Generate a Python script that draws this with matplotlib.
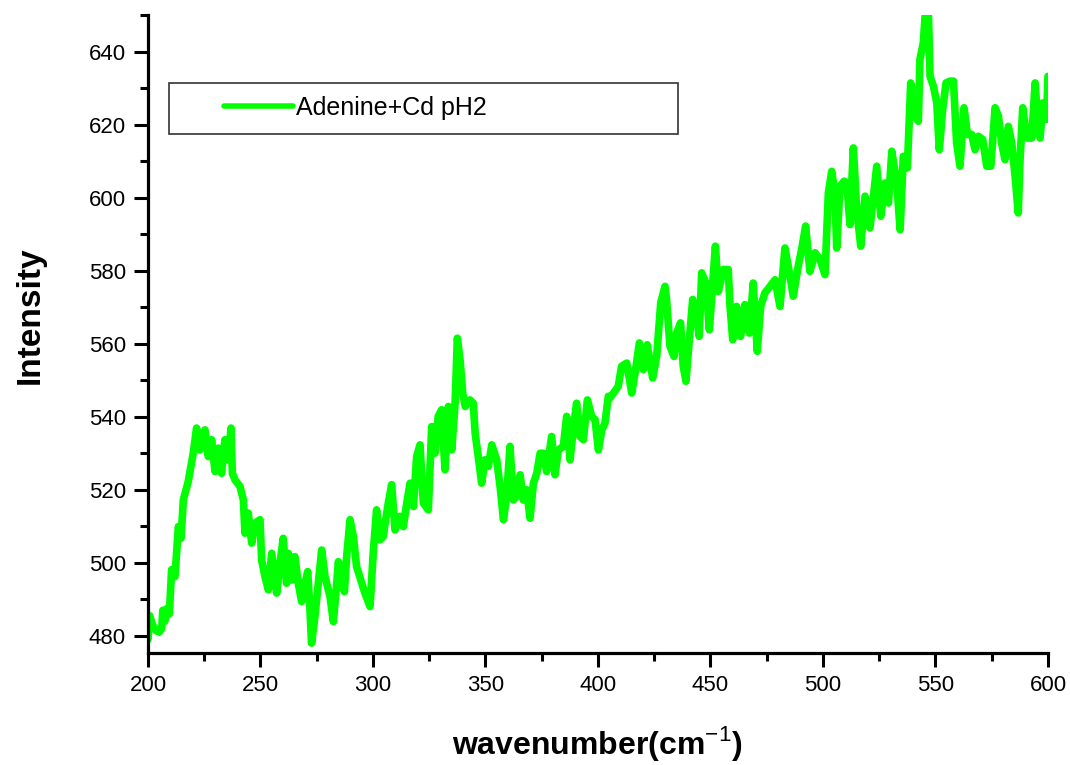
import matplotlib
matplotlib.use("Agg")
import matplotlib.pyplot as plt
from matplotlib.patches import Rectangle

plt.rcParams['font.family'] = ['Liberation Sans', 'DejaVu Sans']
plt.rcParams['mathtext.fontset'] = 'custom'
plt.rcParams['mathtext.rm'] = 'Liberation Sans'
plt.rcParams['mathtext.bf'] = 'Liberation Sans:bold'

# spectrum (wavenumber, intensity)
wavenumber = [
    200.0, 200.8, 202.0, 203.5, 205.0, 206.1, 206.6, 207.5, 208.5, 209.5,
    210.5, 212.0, 213.5, 214.7, 215.7, 217.9, 220.1, 221.6, 223.1, 225.3,
    226.8, 228.3, 229.8, 231.3, 232.7, 234.2, 235.7, 236.9, 237.5, 238.7,
    240.9, 242.4, 243.1, 244.6, 246.1, 247.6, 249.8, 250.5, 252.0, 253.5,
    255.0, 257.2, 258.7, 260.1, 261.6, 262.4, 263.9, 265.3, 266.8, 268.3,
    269.8, 271.0, 272.0, 272.7, 274.2, 275.7, 277.2, 278.7, 280.9, 282.4,
    283.9, 284.6, 286.1, 287.3, 288.3, 289.8, 291.3, 292.7, 295.0, 296.4,
    298.7, 300.1, 301.6, 303.1, 304.6,
    305.4, 306.8, 308.3, 309.8, 312.0, 313.5, 315.0, 316.5, 318.0, 319.4,
    320.9, 322.4, 324.6, 326.1, 327.6, 329.0, 330.5, 332.0, 333.5, 335.0,
    336.5, 337.5, 338.7, 339.9, 341.0, 343.1, 344.6, 345.4, 346.8, 348.3,
    349.8, 351.3, 352.8, 355.0, 356.5, 358.0, 359.4, 360.9, 362.4, 363.9,
    365.4, 366.8, 368.3, 369.8, 371.3, 372.8, 374.3, 375.7, 377.2, 379.4,
    380.9, 382.4, 384.6, 386.1, 387.6, 389.0, 390.5, 392.0, 393.5, 395.3,
    397.2, 398.7, 400.2, 401.7, 403.1, 404.6,
    405.3, 409.0, 410.5, 412.8, 415.0, 416.5, 418.4, 420.2, 421.9, 424.3,
    426.1, 427.9, 429.8, 430.5, 432.0, 433.8, 435.0, 436.7, 437.9, 439.1,
    440.6, 442.1, 443.9, 445.0, 446.1, 448.0, 449.5, 450.9, 452.2, 453.5,
    455.7, 457.9, 458.7, 459.9, 461.6, 463.4, 465.3, 467.3, 469.0, 470.8,
    472.3, 474.2, 476.5, 478.7, 480.9, 483.1, 485.1, 486.8, 489.0, 490.5,
    492.3, 494.2, 496.5, 498.7, 500.9, 502.4, 503.9, 505.3, 506.1,
    507.6, 509.4, 510.6, 512.0, 513.5, 515.0, 516.8, 518.7, 520.9, 523.9,
    525.7, 527.6, 529.1, 530.6, 532.8, 534.3, 535.7, 537.5, 539.0, 540.9,
    542.4, 543.1, 544.6, 545.4, 546.9, 547.6, 549.1, 550.6, 551.7, 553.2,
    554.7, 556.5, 558.0, 559.4, 560.9, 562.7, 564.2, 566.1, 567.6, 569.1,
    571.0, 572.8, 574.6, 576.5, 578.0, 579.4, 580.9, 582.4, 583.9, 585.4,
    586.8, 587.6, 588.8, 590.6, 592.8, 594.3, 595.3, 596.5, 597.7, 599.4,
    600.0,
]
intensity = [
    479.0, 485.5, 483.0, 481.5, 481.0, 482.0, 487.0, 484.0, 487.5, 486.0,
    498.1, 496.2, 509.9, 506.7, 517.2, 522.3, 530.0, 536.9, 530.9, 536.4,
    529.1, 533.7, 525.0, 531.4, 524.5, 533.7, 528.2, 536.9, 524.5, 522.7,
    520.9, 517.2, 508.1, 513.6, 505.4, 510.9, 511.8, 500.8, 496.2, 492.6,
    502.6, 491.7, 499.9, 506.7, 494.4, 502.6, 495.3, 501.7, 494.4, 489.4,
    494.4, 497.6, 487.1, 478.0, 485.3, 494.4, 503.5, 496.2, 490.8, 483.9,
    494.4, 500.3, 496.2, 492.1, 501.7, 511.8, 507.2, 499.0, 494.4, 491.7,
    488.0, 502.6, 514.5, 506.3, 507.2,
    510.9, 516.3, 521.4, 509.0, 512.7, 509.9, 516.3, 521.8, 515.4, 529.1,
    532.3, 516.3, 514.5, 537.3, 530.0, 540.1, 541.9, 525.5, 542.8, 530.9,
    543.7, 561.5, 555.6, 546.5, 542.8, 544.6, 543.7, 535.5, 529.1, 521.8,
    528.2, 526.4, 532.3, 528.2, 520.9, 511.8, 518.2, 531.9, 517.2, 518.2,
    524.1, 517.2, 520.0, 512.2, 521.8, 524.5, 530.0, 530.0, 525.0, 534.6,
    524.1, 530.9, 531.9, 540.1, 528.2, 536.4, 543.7, 534.6, 533.7, 544.6,
    540.1, 539.2, 530.9, 536.4, 538.2, 545.6,
    545.1, 548.3, 553.8, 554.7, 546.5, 552.0, 560.2, 552.9, 559.7, 550.6,
    556.5, 571.2, 575.7, 572.0, 559.3, 556.5, 562.9, 565.7, 553.8, 549.7,
    561.1, 572.1, 567.5, 562.0, 579.4, 576.6, 563.8, 575.7, 586.7, 574.3,
    580.3, 580.3, 570.2, 561.1, 570.2, 562.0, 570.7, 562.9, 576.6, 557.9,
    570.2, 573.9, 575.7, 577.5, 570.2, 586.2, 579.4, 573.0, 581.2, 585.8,
    592.2, 579.8, 584.9, 583.0, 578.9, 601.3, 607.2, 601.3, 586.2,
    603.1, 604.5, 604.0, 592.6, 613.6, 596.7, 586.7, 600.4, 591.7, 608.6,
    594.9, 604.0, 598.5, 612.7, 604.0, 591.2, 611.3, 608.1, 631.4, 622.3,
    620.9, 637.8, 642.4, 649.7, 649.7, 633.2, 630.5, 625.9, 613.1, 624.1,
    631.4, 631.9, 631.9, 615.0, 608.6, 624.6, 617.3, 617.3, 613.1, 616.8,
    615.9, 608.6, 608.6, 624.6, 622.3, 615.0, 610.4, 619.5, 615.0, 605.8,
    595.8, 610.4, 624.6, 616.3, 616.3, 631.4, 622.3, 616.3, 625.9, 621.4,
    633.2,
]
series_label = "Adenine+Cd pH2"
x_ticks = [200, 250, 300, 350, 400, 450, 500, 550, 600]
y_ticks = [480, 500, 520, 540, 560, 580, 600, 620, 640]

fig = plt.figure(figsize=(10.7, 7.65), dpi=100)
ax = fig.add_axes([0.1383, 0.1464, 0.8411, 0.834])

ax.plot(wavenumber, intensity, color='#00ff00', lw=5.5, solid_joinstyle='round',
        solid_capstyle='round', label=series_label)

ax.set_xlim(200, 600)
ax.set_ylim(475.3, 650)
ax.set_xticks(x_ticks)
ax.set_yticks(y_ticks)
ax.set_xticks([225, 275, 325, 375, 425, 475, 525, 575], minor=True)
ax.set_yticks([490, 510, 530, 550, 570, 590, 610, 630, 650], minor=True)

for side in ['top', 'right']:
    ax.spines[side].set_visible(False)
for side in ['left', 'bottom']:
    ax.spines[side].set_linewidth(2.3)

ax.tick_params(which='major', direction='out', length=10, width=2.2,
               labelsize=16, pad=6)
ax.tick_params(which='minor', direction='out', length=5.5, width=2.2)

ax.set_xlabel("wavenumber(cm$^{\\mathrm{-1}}$)", fontsize=23, fontweight='bold',
              va='center')
ax.xaxis.set_label_coords(0.499, -0.142)
ax.set_ylabel("Intensity", fontsize=24, fontweight='bold', va='center')
ax.yaxis.set_label_coords(-0.131, 0.53)

# legend box drawn as a plain rectangle, the legend itself sits inside
ax.add_patch(Rectangle((0.0233, 0.8135), 0.5656, 0.0800, transform=ax.transAxes,
                       fill=False, edgecolor='#333333', lw=1.2, zorder=5,
                       clip_on=False))
leg = ax.legend(loc='center left', bbox_to_anchor=(0.0844, 0.854), frameon=False,
                fontsize=18, handlelength=2.75, handletextpad=0.15, borderpad=0,
                borderaxespad=0)
leg.get_lines()[0].set_linewidth(4)

fig.savefig("out.png", dpi=100)
